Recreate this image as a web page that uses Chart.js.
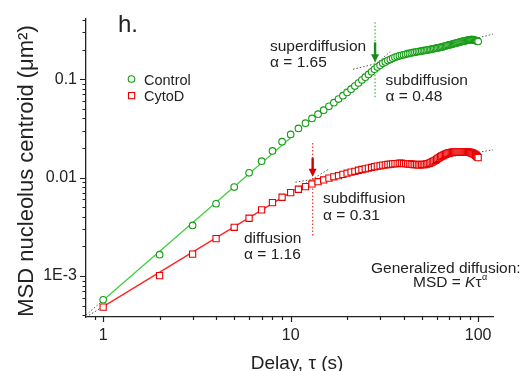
<!DOCTYPE html>
<html>
<head>
<meta charset="utf-8">
<script src="https://cdn.jsdelivr.net/npm/chart.js@4.4.0/dist/chart.umd.min.js"></script>
<style>
  html, body { margin: 0; padding: 0; background: #fff; }
</style>
</head>
<body>
<canvas id="msdChart" width="522" height="371"></canvas>
<script>
// delay (s) for each MSD point
const delays = [
  1, 2, 3, 4, 5, 6, 7, 8, 9, 10,
  11, 12, 13, 14, 15, 16, 17, 18, 19, 20,
  21, 22, 23, 24, 25, 26, 27, 28, 29, 30,
  31, 32, 33, 34, 35, 36, 37, 38, 39, 40,
  41, 42, 43, 44, 45, 46, 47, 48, 49, 50,
  51, 52, 53, 54, 55, 56, 57, 58, 59, 60,
  61, 62, 63, 64, 65, 66, 67, 68, 69, 70,
  71, 72, 73, 74, 75, 76, 77, 78, 79, 80,
  81, 82, 83, 84, 85, 86, 87, 88, 89, 90,
  91, 92, 93, 94, 95, 96, 97, 98, 99, 100
];

// MSD of nucleolus centroid, um^2
const controlMsd = [
  0.000575, 0.00165, 0.00327, 0.00543, 0.00802, 0.0112, 0.0147, 0.0187, 0.0232, 0.0275,
  0.0316, 0.0358, 0.0400, 0.0442, 0.0485, 0.0530, 0.0578, 0.0628, 0.0680, 0.0735,
  0.0792, 0.0852, 0.0915, 0.0980, 0.105, 0.112, 0.119, 0.126, 0.133, 0.139,
  0.145, 0.150, 0.155, 0.159, 0.163, 0.167, 0.170, 0.173, 0.175, 0.177,
  0.179, 0.182, 0.183, 0.185, 0.187, 0.188, 0.190, 0.191, 0.192, 0.194,
  0.195, 0.196, 0.197, 0.199, 0.200, 0.201, 0.203, 0.204, 0.206, 0.207,
  0.208, 0.210, 0.211, 0.213, 0.214, 0.216, 0.218, 0.220, 0.221, 0.223,
  0.224, 0.226, 0.228, 0.229, 0.231, 0.232, 0.234, 0.236, 0.237, 0.239,
  0.240, 0.242, 0.243, 0.244, 0.245, 0.247, 0.248, 0.249, 0.250, 0.251,
  0.252, 0.252, 0.252, 0.252, 0.251, 0.249, 0.248, 0.245, 0.244, 0.242
];

const cytoDMsd = [
  0.000484, 0.00101, 0.00167, 0.00240, 0.00313, 0.00387, 0.00470, 0.00557, 0.00632, 0.00705,
  0.00762, 0.00811, 0.00863, 0.00910, 0.00948, 0.00989, 0.0102, 0.0105, 0.0108, 0.0111,
  0.0114, 0.0116, 0.0119, 0.0121, 0.0123, 0.0125, 0.0127, 0.0129, 0.0131, 0.0132,
  0.0134, 0.0135, 0.0136, 0.0137, 0.0138, 0.0139, 0.0139, 0.0140, 0.0140, 0.0139,
  0.0139, 0.0138, 0.0138, 0.0137, 0.0136, 0.0136, 0.0136, 0.0135, 0.0135, 0.0136,
  0.0136, 0.0136, 0.0137, 0.0139, 0.0140, 0.0142, 0.0145, 0.0147, 0.0150, 0.0153,
  0.0157, 0.0160, 0.0163, 0.0166, 0.0168, 0.0171, 0.0173, 0.0175, 0.0177, 0.0178,
  0.0179, 0.0181, 0.0182, 0.0182, 0.0183, 0.0183, 0.0183, 0.0183, 0.0183, 0.0183,
  0.0183, 0.0183, 0.0183, 0.0183, 0.0183, 0.0183, 0.0183, 0.0183, 0.0182, 0.0181,
  0.0180, 0.0179, 0.0177, 0.0176, 0.0174, 0.0172, 0.0169, 0.0166, 0.0163, 0.0160
];

// power-law fits, endpoints as [delay, msd]
const controlFitSolid = [[1, 0.000569], [10, 0.0254]];
const controlFitLow = [[0.81, 0.000402], [1, 0.000569]];
const controlSuperTail = [[20, 0.0798], [34, 0.191]];
const controlSubLine = [[21.5, 0.126], [125, 0.293]];
const cytoDFitSolid = [[1, 0.00049], [10, 0.00708]];
const cytoDFitLow = [[0.81, 0.000384], [1, 0.00049]];
const cytoDSuperTail = [[10, 0.00708], [15.8, 0.01205]];
const cytoDSubLine = [[10.6, 0.0090], [125, 0.0194]];

// crossover markers
const controlCross = [[28.2, 0.379], [28.2, 0.0632]];
const cytoDCross = [[13.1, 0.0225], [13.1, 0.00252]];
const controlArrow = [[28.2, 0.237], [28.2, 0.149]];
const cytoDArrow = [[13.1, 0.0159], [13.1, 0.0102]];

// axes
const xMajorTicks = [1, 10, 100];
const xTickLabels = ['1', '10', '100'];
const xMinorTicks = [0.9, 2, 3, 4, 5, 6, 7, 8, 9, 20, 30, 40, 50, 60, 70, 80, 90];
const yMajorTicks = [0.001, 0.01, 0.1];
const yTickLabels = ['1E-3', '0.01', '0.1'];
const yMinorTicks = [0.0004, 0.0005, 0.0006, 0.0007, 0.0008, 0.0009,
  0.002, 0.003, 0.004, 0.005, 0.006, 0.007, 0.008, 0.009,
  0.02, 0.03, 0.04, 0.05, 0.06, 0.07, 0.08, 0.09, 0.2, 0.3, 0.4];

const xTitle = 'Delay, \u03c4 (s)';
const yTitle = 'MSD nucleolus centroid (\u03bcm\u00b2)';

const INK = '#222';
const FONT = '"Liberation Sans", Arial, sans-serif';
const GREEN_MARK = '#139c13';
const GREEN_LINE = '#3fcf3f';
const RED_MARK = '#e80000';
const RED_LINE = '#ff2222';

const toXY = pts => pts.map(p => ({ x: p[0], y: p[1] }));

function lineSet(pts, color, dash, width) {
  return {
    data: toXY(pts),
    showLine: true,
    borderColor: color,
    borderWidth: width || 1.3,
    borderDash: dash || [],
    pointRadius: 0,
    fill: false,
    order: 5
  };
}

const axisTicks = {
  id: 'axisTicks',
  afterDraw(chart) {
    const { ctx, chartArea: area } = chart;
    const xs = chart.scales.x, ys = chart.scales.y;
    ctx.save();
    ctx.strokeStyle = INK;
    ctx.lineWidth = 1.2;
    ctx.beginPath();
    xMajorTicks.forEach(v => { const p = Math.round(xs.getPixelForValue(v)) + 0.5; ctx.moveTo(p, area.bottom); ctx.lineTo(p, area.bottom + 5); });
    xMinorTicks.forEach(v => { const p = Math.round(xs.getPixelForValue(v)) + 0.5; ctx.moveTo(p, area.bottom); ctx.lineTo(p, area.bottom + 3); });
    yMajorTicks.forEach(v => { const p = Math.round(ys.getPixelForValue(v)) + 0.5; ctx.moveTo(area.left, p); ctx.lineTo(area.left - 6, p); });
    yMinorTicks.forEach(v => { const p = Math.round(ys.getPixelForValue(v)) + 0.5; ctx.moveTo(area.left, p); ctx.lineTo(area.left - 3.5, p); });
    ctx.stroke();

    // axis titles
    ctx.fillStyle = INK;
    ctx.textAlign = 'center';
    ctx.textBaseline = 'alphabetic';
    ctx.font = '19px ' + FONT;
    ctx.fillText(xTitle, 297, 369);
    ctx.translate(33, 171);
    ctx.rotate(-Math.PI / 2);
    ctx.font = '22px ' + FONT;
    ctx.fillText(yTitle, 0, 0);
    ctx.restore();
  }
};

function drawArrow(ctx, xs, ys, pts, color) {
  const x = xs.getPixelForValue(pts[0][0]);
  const y0 = ys.getPixelForValue(pts[0][1]);
  const y1 = ys.getPixelForValue(pts[1][1]);
  ctx.save();
  ctx.strokeStyle = color;
  ctx.fillStyle = color;
  ctx.lineWidth = 2.4;
  ctx.beginPath();
  ctx.moveTo(x, y0);
  ctx.lineTo(x, y1 - 7);
  ctx.stroke();
  ctx.beginPath();
  ctx.moveTo(x - 4, y1 - 8);
  ctx.lineTo(x + 4, y1 - 8);
  ctx.lineTo(x, y1);
  ctx.closePath();
  ctx.fill();
  ctx.restore();
}

const annotations = {
  id: 'annotations',
  afterDatasetsDraw(chart) {
    const ctx = chart.ctx;
    const xs = chart.scales.x, ys = chart.scales.y;

    drawArrow(ctx, xs, ys, controlArrow, '#168c16');
    drawArrow(ctx, xs, ys, cytoDArrow, '#d40000');

    ctx.save();
    ctx.fillStyle = INK;
    ctx.textBaseline = 'alphabetic';
    ctx.textAlign = 'left';

    ctx.font = '24px ' + FONT;
    ctx.fillText('h.', 118, 32);

    // legend
    ctx.lineWidth = 1.1;
    ctx.strokeStyle = GREEN_MARK;
    ctx.fillStyle = '#fff';
    ctx.beginPath();
    ctx.arc(131.5, 79, 3.3, 0, Math.PI * 2);
    ctx.fill();
    ctx.stroke();
    ctx.strokeStyle = RED_MARK;
    ctx.fillRect(128.5, 92.5, 6.2, 6.2);
    ctx.strokeRect(128.5, 92.5, 6.2, 6.2);
    ctx.fillStyle = INK;
    ctx.font = '14.5px ' + FONT;
    ctx.fillText('Control', 144, 85);
    ctx.fillText('CytoD', 144, 101);

    ctx.font = '15.5px ' + FONT;
    ctx.fillText('superdiffusion', 270, 51);
    ctx.fillText('\u03b1 = 1.65', 270, 67);
    ctx.fillText('subdiffusion', 385.5, 85);
    ctx.fillText('\u03b1 = 0.48', 385.5, 101);
    ctx.fillText('subdiffusion', 323, 203);
    ctx.fillText('\u03b1 = 0.31', 323, 220);
    ctx.fillText('diffusion', 244, 243);
    ctx.fillText('\u03b1 = 1.16', 244, 259);

    ctx.fillText('Generalized diffusion:', 371, 273);
    let x = 413;
    const yb = 287;
    ctx.fillText('MSD = ', x, yb);
    x += ctx.measureText('MSD = ').width;
    ctx.font = 'italic 15.5px ' + FONT;
    ctx.fillText('K', x, yb);
    x += ctx.measureText('K').width;
    ctx.font = '15.5px ' + FONT;
    ctx.fillText('\u03c4', x, yb);
    x += ctx.measureText('\u03c4').width + 0.5;
    ctx.font = '9px ' + FONT;
    ctx.fillText('\u03b1', x, yb - 7);
    ctx.restore();
  }
};

new Chart(document.getElementById('msdChart'), {
  type: 'scatter',
  data: {
    datasets: [
      {
        label: 'Control',
        data: delays.map((t, i) => ({ x: t, y: controlMsd[i] })),
        pointStyle: 'circle',
        pointRadius: 3.3,
        pointBorderWidth: 1.1,
        pointBorderColor: GREEN_MARK,
        pointBackgroundColor: '#fff',
        showLine: false,
        order: 1
      },
      {
        label: 'CytoD',
        data: delays.map((t, i) => ({ x: t, y: cytoDMsd[i] })),
        pointStyle: 'rect',
        pointRadius: 4.4,
        pointBorderWidth: 1.1,
        pointBorderColor: RED_MARK,
        pointBackgroundColor: '#fff',
        showLine: false,
        order: 1
      },
      lineSet(controlFitSolid, GREEN_LINE),
      lineSet(cytoDFitSolid, RED_LINE),
      lineSet(controlFitLow, '#555', [1.5, 2], 1),
      lineSet(cytoDFitLow, '#555', [1.5, 2], 1),
      lineSet(controlSuperTail, '#555', [1.5, 2], 1),
      lineSet(controlSubLine, '#555', [1.5, 2], 1),
      lineSet(cytoDSuperTail, '#555', [1.5, 2], 1),
      lineSet(cytoDSubLine, '#555', [1.5, 2], 1),
      lineSet(controlCross, '#33bb33', [1.5, 2], 1.2),
      lineSet(cytoDCross, '#ff3333', [1.5, 2], 1.2)
    ]
  },
  options: {
    responsive: false,
    animation: false,
    devicePixelRatio: 1,
    layout: { padding: { left: 0, top: 18, right: 29, bottom: 0 } },
    plugins: {
      legend: { display: false },
      tooltip: { enabled: false }
    },
    scales: {
      x: {
        type: 'logarithmic',
        position: 'bottom',
        min: 0.81,
        max: 120,
        grid: { display: false, drawTicks: false },
        border: { display: true, color: INK, width: 1.3 },
        afterBuildTicks: s => { s.ticks = xMajorTicks.map(v => ({ value: v })); },
        afterFit: s => { s.height = 54; },
        ticks: {
          autoSkip: false,
          maxRotation: 0,
          padding: 9,
          color: INK,
          font: { family: FONT, size: 16 },
          callback: v => xTickLabels[xMajorTicks.indexOf(v)]
        },
        title: { display: false, text: xTitle }
      },
      y: {
        type: 'logarithmic',
        position: 'left',
        min: 0.000384,
        max: 0.413,
        grid: { display: false, drawTicks: false },
        border: { display: true, color: INK, width: 1.3 },
        afterBuildTicks: s => { s.ticks = yMajorTicks.map(v => ({ value: v })); },
        afterFit: s => { s.width = 86; },
        ticks: {
          autoSkip: false,
          padding: 9,
          color: INK,
          font: { family: FONT, size: 16 },
          callback: v => yTickLabels[yMajorTicks.indexOf(v)]
        },
        title: { display: false, text: yTitle }
      }
    }
  },
  plugins: [axisTicks, annotations]
});
</script>
</body>
</html>
